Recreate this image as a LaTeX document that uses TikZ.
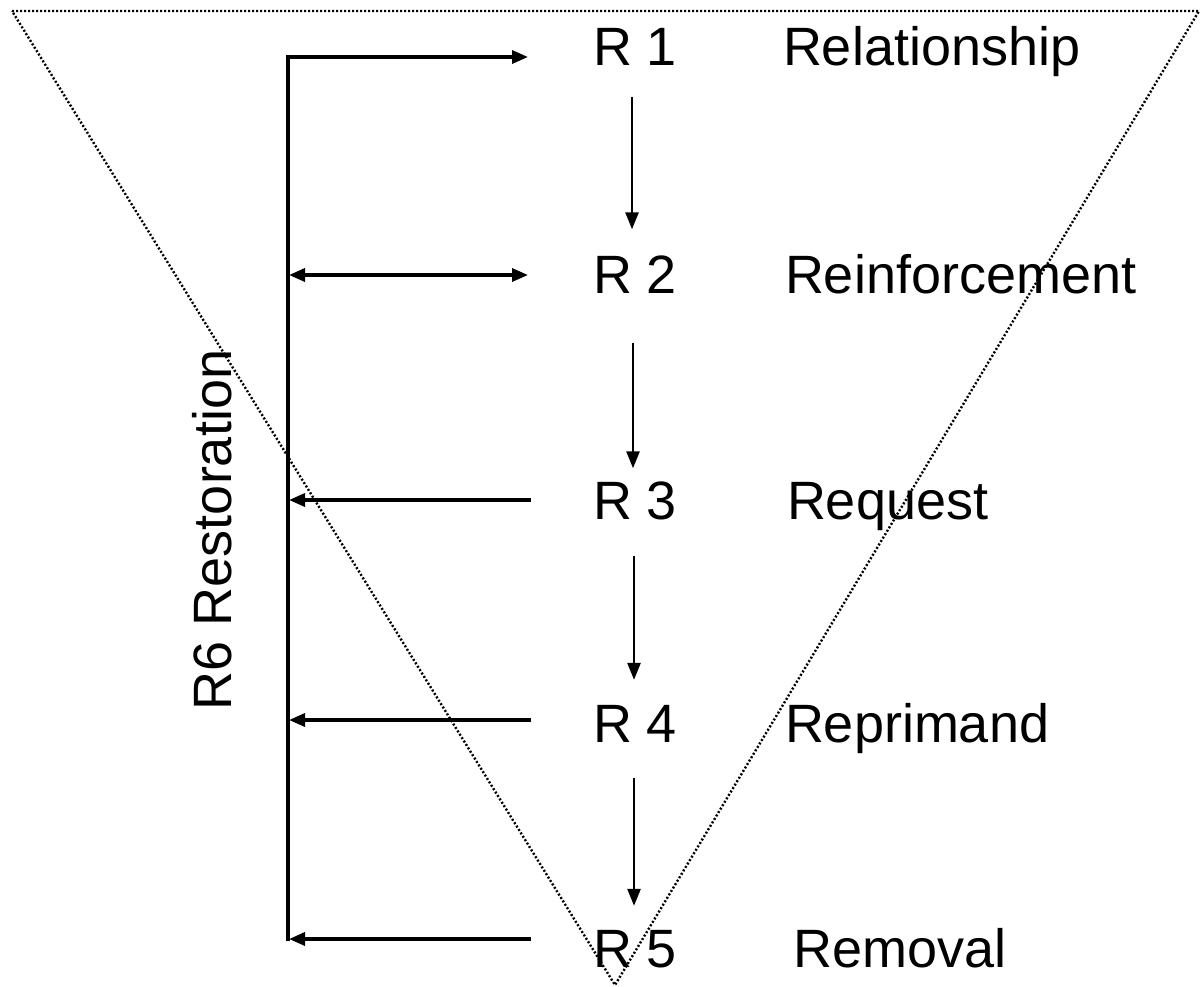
\documentclass[tikz,border=0pt]{standalone}
\usepackage{fontspec}
\setmainfont{Liberation Sans}
\usetikzlibrary{arrows.meta}
\begin{document}
\begin{tikzpicture}[x=1pt,y=-1pt,
  lbl/.style={inner sep=0pt,outer sep=0pt,anchor=base west,font=\fontsize{54}{60}\selectfont},
  tri/.style={line width=2.4pt,dash pattern=on 2pt off 2pt,black},
  hline/.style={line width=3.4pt,-{Triangle[length=16pt,width=13pt]}},
  vline/.style={line width=2.6pt,-{Triangle[length=17pt,width=13pt]}},
  bus/.style={line width=3.4pt}]
\useasboundingbox (0,0) rectangle (1204,986);
% dotted inverted triangle
\draw[tri] (12,11) -- (1199,11) -- (615,985) -- cycle;
% R labels
\node[lbl] (r1) at (593,65) {R 1};
\node[lbl] (r2) at (593,293) {R 2};
\node[lbl] (r3) at (593,519) {R 3};
\node[lbl] (r4) at (593,742) {R 4};
\node[lbl] (r5) at (593,967) {R 5};
% names
\node[lbl] (n1) at (783,65) {Relationship};
\node[lbl] (n2) at (785,293) {Reinforcement};
\node[lbl] (n3) at (787,519) {Request};
\node[lbl] (n4) at (785,742) {Reprimand};
\node[lbl] (n5) at (793,967) {Removal};
% rotated label
\node[lbl,rotate=90] (r6) at (231,710) {R6 Restoration};
% vertical arrows
\draw[vline] ([xshift=-3pt,yshift=-32pt]r1.south) -- ([xshift=-3pt,yshift=26pt]r2.north);
\draw[vline] ([xshift=-2pt,yshift=-50pt]r2.south) -- ([xshift=-2pt,yshift=13pt]r3.north);
\draw[vline] ([xshift=-1pt,yshift=-36pt]r3.south) -- ([xshift=-1pt,yshift=25pt]r4.north);
\draw[vline] ([xshift=-1pt,yshift=-36pt]r4.south) -- ([xshift=-1pt,yshift=24pt]r5.north);
% bus
\coordinate (b1) at (288,57);
\coordinate (b2) at (288,275);
\coordinate (b3) at (288,500);
\coordinate (b4) at (288,720);
\coordinate (b5) at (288,939);
\coordinate (e1) at (528,57);
\coordinate (e2) at (528,275);
\coordinate (e3) at (531,500);
\coordinate (e4) at (531,720);
\coordinate (e5) at (531,939);
\draw[bus,line cap=rect] (b1) -- (b5);
\draw[hline] (b1) -- (e1);
\draw[hline,{Triangle[length=16pt,width=13pt]}-{Triangle[length=16pt,width=13pt]}] ([xshift=1pt]b2) -- (e2);
\draw[hline] (e3) -- ([xshift=1pt]b3);
\draw[hline] (e4) -- ([xshift=1pt]b4);
\draw[hline] (e5) -- ([xshift=1pt]b5);
\end{tikzpicture}
\end{document}
